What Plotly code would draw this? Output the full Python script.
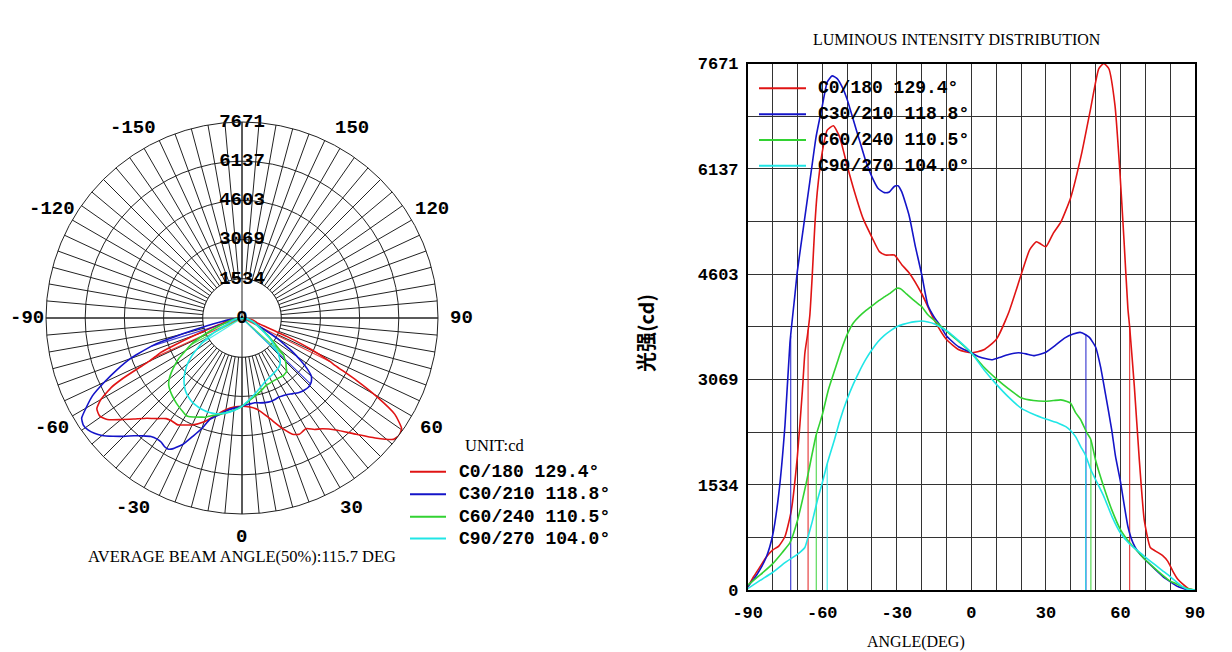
import math

import numpy as np
import plotly.graph_objects as go

# the page body has an 8px margin, so the figure is shifted by that much
OFFSET = 8
W, H = 1232 - OFFSET, 652 - OFFSET

# ---- data ----------------------------------------------------------------
series_names = ["C0/180", "C30/210", "C60/240", "C90/270"]
beam_angles = [129.4, 118.8, 110.5, 104.0]
colors = ["#e01414", "#1414c8", "#32d232", "#20e6e6"]

red_deg = [-90, -87.5, -85, -82.5, -80, -77.5, -75, -72.5, -70, -68, -67, -66, -65, -64,
           -63, -62, -60, -58, -55.5, -53, -50, -47, -43.5, -40, -37, -34.5, -31, -28,
           -25, -20, -15, -10, -5, 0, 5, 10, 15, 20, 23.5, 26.2, 28, 30, 33, 36, 40,
           44.5, 48, 51.3, 53.3, 55.3, 57.8, 59.7, 61.4, 63, 63.7, 65.6, 67.6, 69.6,
           72, 74, 77, 79, 81, 83, 85, 87.5, 90]
red_cd = [40, 200, 340, 480, 580, 640, 780, 1150, 1950, 2900, 3450, 3700, 4000, 4600,
          5300, 5800, 6380, 6700, 6763, 6600, 6186, 5800, 5407, 5139, 4930, 4880, 4880, 4740,
          4620, 4320, 3940, 3650, 3500, 3456, 3500, 3650, 4040, 4590, 4960, 5075, 5040, 5000,
          5200, 5360, 5720, 6380, 7014, 7598, 7671, 7598, 7062, 6137, 5115, 4100, 3835,
          2960, 1890, 1013, 620, 570, 500, 420, 280, 160, 90, 20, 0]

blue_deg = [-90, -87.5, -85, -82.5, -80, -77.5, -75, -73, -71, -70, -67.5, -65, -62.5,
            -60, -58, -56, -54, -52, -50, -47.5, -45, -42.5, -40, -37.5, -35, -33, -31,
            -29.5, -28, -25, -22.5, -20, -17.5, -15, -12.5, -10, -5, 0, 3, 6, 8.5, 12,
            15, 19, 22, 25, 28, 30, 34, 37.5, 41, 43.8, 46, 47.5, 50, 52, 54, 56.5, 58,
            60, 63, 65, 67, 70, 74, 77, 80, 82.5, 85, 87.5, 90]
blue_cd = [50, 160, 300, 480, 790, 1400, 2400, 3600, 4300, 4650, 5300, 5950, 6600,
           7050, 7400, 7491, 7450, 7330, 7150, 6850, 6550, 6250, 6020, 5850, 5790, 5800, 5880,
           5890, 5800, 5450, 5000, 4600, 4150, 3980, 3850, 3700, 3540, 3456, 3400, 3370, 3355,
           3395, 3430, 3456, 3440, 3415, 3440, 3465, 3570, 3670, 3730, 3753, 3720, 3680, 3540,
           3250, 2850, 2330, 1950, 1580, 925, 690, 560, 440, 300, 200, 122, 60, 24, 0, 0]

green_deg = [-90, -85, -80, -76, -73, -70, -66.5, -62.5, -60, -57.5, -55, -52.5, -50,
             -47.5, -45, -42.5, -40, -37.5, -35, -32.5, -30, -28.5, -26, -22.5, -20,
             -17.5, -15, -10, -5, 0, 5, 10, 15, 20, 25, 30, 33, 36, 38.5, 40, 42, 44,
             46.5, 48, 50, 53.3, 56.6, 60, 63.7, 67, 70, 73, 76.8, 80, 82, 86, 90]
green_cd = [70, 220, 380, 550, 690, 1010, 1550, 2250, 2550, 2920, 3200, 3480, 3720,
            3890, 3990, 4070, 4140, 4210, 4270, 4330, 4395, 4390, 4310, 4200, 4130,
            4010, 3930, 3770, 3620, 3456, 3250, 3080, 2930, 2800, 2760, 2750, 2760, 2770,
            2745, 2720, 2580, 2480, 2290, 2200, 1890, 1500, 1160, 880, 690, 560, 440, 340,
            220, 130, 97, 30, 0]

cyan_deg = [-90, -85, -80, -75, -70, -67, -65.5, -64, -62, -60, -58, -55, -53, -50,
            -47.5, -45, -42.5, -40, -37.5, -35, -32.5, -30, -27.5, -25, -22.5, -20,
            -17.5, -15, -12.5, -10, -5, 0, 5, 10, 15, 20, 25, 30, 35, 38, 40, 42, 44,
            46, 48, 50, 53.3, 56.6, 60, 63.7, 67, 70, 74, 77, 80, 84, 87, 90]
cyan_cd = [20, 140, 255, 400, 520, 620, 800, 1000, 1300, 1560, 1840, 2200, 2460, 2780,
           3000, 3190, 3360, 3500, 3620, 3710, 3780, 3836, 3870, 3895, 3910, 3919,
           3905, 3880, 3830, 3780, 3630, 3456, 3212, 3000, 2810, 2650, 2560, 2490, 2430,
           2380, 2320, 2230, 2090, 1960, 1760, 1610, 1365, 1070, 830, 670, 570, 480, 365,
           280, 195, 75, 10, 0]

# beam edges (50% of max) for each C-plane
beam_left = [-65.7, -72.7, -62.4, -58.0]
beam_right = [63.7, 46.1, 48.1, 46.0]

radial_ticks = [0, 1534, 3069, 4603, 6137, 7671]
I_MAX = 7671
angle_marks = [-150, -120, -90, -60, -30, 0, 30, 60, 90, 120, 150]
x_labels = [-90, -60, -30, 0, 30, 60, 90]

all_deg = [red_deg, blue_deg, green_deg, cyan_deg]
all_cd = [red_cd, blue_cd, green_cd, cyan_cd]

# polar chart geometry in page pixels
PCX, PCY, PR = 242, 318, 196


def px(x):
    return (x - OFFSET) / W


def py(y):
    return 1 - (y - OFFSET) / H


MONO = "Liberation Mono"
SERIF = "Liberation Serif"

fig = go.Figure()

# ---- polar chart ------------------------------------------------------------
# blank inner disk (spokes start at the first ring) and the two full diameters
ring_theta = list(range(0, 361, 2))
fig.add_trace(go.Scatterpolar(
    r=[radial_ticks[1]] * len(ring_theta), theta=ring_theta, mode="lines",
    fill="toself", fillcolor="white", line=dict(color="#222", width=1),
    hoverinfo="skip", showlegend=False, subplot="polar"))
fig.add_trace(go.Scatterpolar(
    r=[I_MAX, 0, I_MAX, None, I_MAX, 0, I_MAX],
    theta=[0, 0, 180, None, 90, 90, 270], mode="lines",
    line=dict(color="#222", width=1), hoverinfo="skip", showlegend=False,
    subplot="polar"))

edge_values = []
for deg, cd, bl, br in zip(all_deg, all_cd, beam_left, beam_right):
    edge_values.append((float(np.interp(bl, deg, cd)), float(np.interp(br, deg, cd))))

for deg, cd, c, bl, br, (hl, hr) in zip(all_deg, all_cd, colors, beam_left,
                                        beam_right, edge_values):
    fig.add_trace(go.Scatterpolar(
        r=[0, hl, None, 0, hr], theta=[bl, bl, None, br, br], mode="lines",
        line=dict(color=c, width=1.2), opacity=0.8, showlegend=False,
        subplot="polar"))
    fig.add_trace(go.Scatterpolar(
        r=cd, theta=deg, mode="lines",
        line=dict(color=c, width=1.6, shape="spline", smoothing=0.5),
        showlegend=False, subplot="polar"))

fig.add_trace(go.Scatterpolar(
    r=radial_ticks, theta=[180] * len(radial_ticks), mode="text",
    text=[str(v) for v in radial_ticks],
    textfont=dict(family=MONO, size=19, color="black", weight="bold"),
    cliponaxis=False, hoverinfo="skip", showlegend=False, subplot="polar"))

# ---- cartesian chart --------------------------------------------------------
for deg, cd, c, bl, br, (hl, hr) in zip(all_deg, all_cd, colors, beam_left,
                                        beam_right, edge_values):
    fig.add_trace(go.Scatter(
        x=[bl, bl, None, br, br], y=[0, hl, None, 0, hr], mode="lines",
        line=dict(color=c, width=1.2), opacity=0.8, showlegend=False,
        xaxis="x", yaxis="y"))
    fig.add_trace(go.Scatter(
        x=deg, y=cd, mode="lines",
        line=dict(color=c, width=1.6, shape="spline", smoothing=0.5),
        showlegend=False, xaxis="x", yaxis="y"))

x_grid = list(range(-90, 91, 10))
y_grid = [I_MAX * i / 10 for i in range(11)]
tick_font = dict(family=MONO, size=17, color="black", weight="bold")

fig.update_layout(
    width=W, height=H,
    margin=dict(l=0, r=0, t=0, b=0, autoexpand=False),
    paper_bgcolor="white", plot_bgcolor="white",
    polar=dict(
        domain=dict(x=[px(PCX - PR), px(PCX + PR)], y=[py(PCY + PR), py(PCY - PR)]),
        bgcolor="white",
        angularaxis=dict(rotation=270, direction="counterclockwise",
                         tickmode="array", tickvals=list(range(0, 360, 5)),
                         showticklabels=False, ticks="",
                         gridcolor="#222", gridwidth=1,
                         showline=True, linecolor="#222", linewidth=1),
        radialaxis=dict(range=[0, I_MAX], tickmode="array",
                        tickvals=radial_ticks[1:], showticklabels=False,
                        ticks="", showline=False, gridcolor="#222",
                        gridwidth=1, angle=180),
    ),
    xaxis=dict(domain=[px(747.7), px(1195)], range=[-90, 90], automargin=False,
               tickmode="array", tickvals=x_grid,
               ticktext=[str(v) if v in x_labels else "" for v in x_grid],
               showgrid=True, gridcolor="#333", gridwidth=1, zeroline=False,
               showline=True, mirror=True, linecolor="black", linewidth=1.5,
               ticks="", tickfont=tick_font, ticklabelstandoff=6),
    yaxis=dict(domain=[py(590), py(63.5)], range=[0, I_MAX], automargin=False,
               tickmode="array", tickvals=y_grid,
               ticktext=[str(radial_ticks[i // 2]) if i % 2 == 0 else "" for i in range(11)],
               showgrid=True, gridcolor="#333", gridwidth=1, zeroline=False,
               showline=True, mirror=True, linecolor="black", linewidth=1.5,
               ticks="", tickfont=tick_font, ticklabelstandoff=4),
)

label_font = dict(family=MONO, size=19, color="black", weight="bold")
annotations = [
    dict(x=px(957), y=py(40), text="LUMINOUS INTENSITY DISTRIBUTION",
         font=dict(family=SERIF, size=16, color="black")),
    dict(x=px(916), y=py(642), text="ANGLE(DEG)",
         font=dict(family=SERIF, size=16, color="black")),
    dict(x=px(242), y=py(556),
         text=f"AVERAGE BEAM ANGLE(50%):{sum(beam_angles) / len(beam_angles):.1f} DEG",
         font=dict(family=SERIF, size=16.5, color="black")),
    dict(x=px(463), y=py(445), text="UNIT:cd", xanchor="left",
         font=dict(family=SERIF, size=16.5, color="black")),
    dict(x=px(645), y=py(333), text="光强(cd)", textangle=-90,
         font=dict(family="Noto Sans CJK SC", size=20, color="black", weight="bold")),
]
# angular labels around the polar chart (kept inside the page on the left)
for a in angle_marks:
    t = math.radians(a)
    lx = max(PCX + 219 * math.sin(t), OFFSET + 19)
    annotations.append(dict(x=px(lx), y=py(PCY + 219 * math.cos(t)),
                            text=str(a), font=label_font))

shapes = []
legend_font = dict(family=MONO, size=18, color="black", weight="bold")
polar_rows = [471.7, 494.3, 516.7, 538.5]
cart_rows = [88.3, 114.3, 140.0, 165.7]
for name, ang, c, yp, yc in zip(series_names, beam_angles, colors, polar_rows, cart_rows):
    label = f"{name} {ang:.1f}°"
    shapes.append(dict(type="line", xref="paper", yref="paper",
                       x0=px(410), x1=px(446), y0=py(yp), y1=py(yp),
                       line=dict(color=c, width=2)))
    annotations.append(dict(x=px(457), y=py(yp), text=label, xanchor="left",
                            font=legend_font))
    shapes.append(dict(type="line", xref="paper", yref="paper",
                       x0=px(759), x1=px(806), y0=py(yc), y1=py(yc),
                       line=dict(color=c, width=2)))
    annotations.append(dict(x=px(816), y=py(yc), text=label, xanchor="left",
                            font=legend_font))

for a in annotations:
    a.setdefault("xref", "paper")
    a.setdefault("yref", "paper")
    a.setdefault("showarrow", False)
    a.setdefault("xanchor", "center")
    a.setdefault("yanchor", "middle")

fig.update_layout(annotations=annotations, shapes=shapes)

fig.write_html("out.html")
